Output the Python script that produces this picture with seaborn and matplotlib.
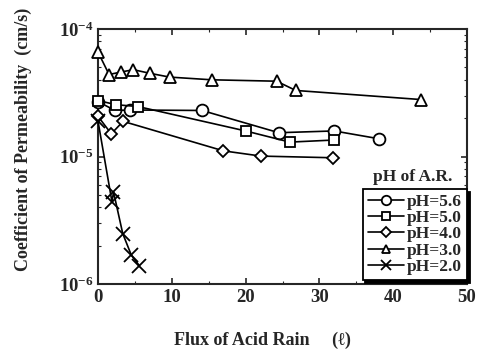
import numpy as np
import pandas as pd
import matplotlib
matplotlib.use("Agg")
import matplotlib.pyplot as plt
import seaborn as sns
from matplotlib.lines import Line2D
from matplotlib.ticker import MultipleLocator, FixedLocator, FixedFormatter, LogLocator, NullFormatter

# ---- data ----
x_56 = [0, 2.3, 4.4, 14.1, 24.5, 32.0, 38.1]
y_56 = [2.7e-5, 2.3e-5, 2.32e-5, 2.3e-5, 1.54e-5, 1.59e-5, 1.38e-5]

x_50 = [0, 2.5, 5.4, 20.0, 26.0, 32.0]
y_50 = [2.75e-5, 2.55e-5, 2.47e-5, 1.59e-5, 1.30e-5, 1.35e-5]

x_40 = [0, 1.8, 3.4, 17.0, 22.1, 31.9]
y_40 = [2.07e-5, 1.51e-5, 1.89e-5, 1.11e-5, 1.01e-5, 9.8e-6]

x_30 = [0, 1.5, 3.1, 4.8, 7.0, 9.7, 15.4, 24.2, 26.8, 43.8]
y_30 = [6.6e-5, 4.4e-5, 4.6e-5, 4.8e-5, 4.5e-5, 4.2e-5, 4.0e-5, 3.9e-5, 3.3e-5, 2.8e-5]

x_20 = [0, 1.9, 2.1, 3.35, 4.5, 5.6]
y_20 = [1.9e-5, 4.4e-6, 5.3e-6, 2.5e-6, 1.7e-6, 1.4e-6]

labels = ["pH=5.6", "pH=5.0", "pH=4.0", "pH=3.0", "pH=2.0"]
xs = [x_56, x_50, x_40, x_30, x_20]
ys = [y_56, y_50, y_40, y_30, y_20]
y_ticks = [1e-6, 1e-5, 1e-4]
y_ticklabels = [r"$10^{-6}$", r"$10^{-5}$", r"$10^{-4}$"]

sns.set_style("ticks")
plt.rcParams["font.family"] = ["Liberation Serif", "DejaVu Serif"]
plt.rcParams["font.weight"] = "bold"
plt.rcParams["mathtext.fontset"] = "custom"
plt.rcParams["mathtext.rm"] = "Liberation Serif:bold"
plt.rcParams["mathtext.bf"] = "Liberation Serif:bold"
plt.rcParams["mathtext.it"] = "Liberation Serif:italic:bold"

W, H = 484, 355
fig = plt.figure(figsize=(W / 100, H / 100), dpi=100)
L, R, T, B = 98, 467, 29, 284.3
ax = fig.add_axes([L / W, 1 - B / H, (R - L) / W, (B - T) / H])

markers = ["o", "s", "D", "^", "x"]
msizes = [8.5, 7.5, 6.5, 8.0, 9.5]

for xv, yv, lab, m, ms in zip(xs, ys, labels, markers, msizes):
    df = pd.DataFrame({"flux": xv, "perm": yv})
    sns.lineplot(data=df, x="flux", y="perm", ax=ax, color="black", marker=m,
                 markersize=ms, markerfacecolor="white", markeredgecolor="black",
                 markeredgewidth=1.3, linewidth=1.2, sort=False, estimator=None,
                 legend=False, clip_on=False, zorder=3)

ax.set_yscale("log")
ax.set_xlim(0, 50)
ax.set_ylim(1e-6, 1e-4)
ax.xaxis.set_major_locator(MultipleLocator(10))
ax.xaxis.set_minor_locator(MultipleLocator(5))
ax.yaxis.set_major_locator(FixedLocator(y_ticks))
ax.yaxis.set_major_formatter(FixedFormatter(y_ticklabels))
ax.yaxis.set_minor_locator(LogLocator(base=10, subs=np.arange(2, 10)))
ax.yaxis.set_minor_formatter(NullFormatter())
ax.tick_params(which="both", direction="in", top=True, right=True, labelsize=13.5)
ax.tick_params(which="major", length=4, width=1.2)
ax.tick_params(which="minor", length=2, width=0.8)
for s in ax.spines.values():
    s.set_linewidth(1.5)
ax.set_xlabel("")
ax.set_ylabel("")

fig.text(262 / W, 1 - 340 / H, "Flux of Acid Rain     (\u2113)", ha="center", va="center",
         fontsize=13, fontweight="bold")
fig.text(23 / W, 1 - 139 / H, "Coefficient of Permeability  (cm/s)", ha="center", va="center",
         rotation=90, fontsize=13, fontweight="bold")

handles = [Line2D([], [], color="black", marker=m, markersize=ms * 0.8, markerfacecolor="white",
                  markeredgecolor="black", markeredgewidth=1.3, linewidth=1.2)
           for m, ms in zip(markers, msizes)]
leg = ax.legend(handles, labels, loc="lower right", bbox_to_anchor=(1.0, 0.017),
                borderaxespad=0, fontsize=12.5, handlelength=2.1, handletextpad=0.15,
                labelspacing=0.0, borderpad=0.3, fancybox=False, framealpha=1,
                edgecolor="black", shadow={"color": "black", "alpha": 1})
leg.get_frame().set_linewidth(1.3)
fig.text(413 / W, 1 - 177 / H, "pH of A.R.", ha="center", va="center", fontsize=12.5,
         fontweight="bold")

fig.savefig("out.png", dpi=100)
